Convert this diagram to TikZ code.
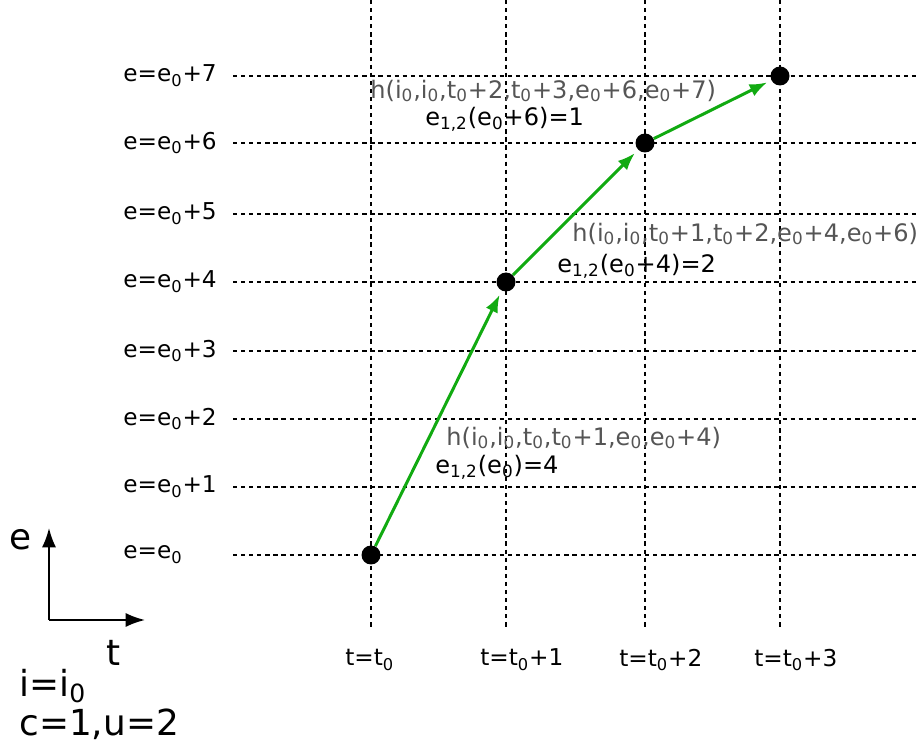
\documentclass[tikz,border=0pt]{standalone}
\usepackage{fontspec}
\setmainfont{DejaVu Sans}
\usetikzlibrary{arrows.meta,positioning}
\definecolor{Walk}{HTML}{11AA11}
\definecolor{Hop}{HTML}{555555}
\newcommand{\lo}[1]{\textsubscript{#1}}

\begin{document}
\begin{tikzpicture}[x=0.02cm,y=-0.02cm,>=Latex,
  grid/.style={dash pattern=on 2.4pt off 2.2pt,line width=0.6pt},
  dot/.style={circle,fill=black,inner sep=0pt,minimum size=0.38cm},
  walk/.style={-{Latex[length=10pt,width=7.5pt]},Walk,line width=1.7pt,shorten >=2.5pt},
  axis/.style={-{Latex[length=11pt,width=8pt]},line width=1.1pt},
  elab/.style={anchor=west,inner sep=0pt,font=\fontsize{13.2}{15}\selectfont},
  tlab/.style={anchor=west,inner sep=0pt,font=\fontsize{13.2}{15}\selectfont},
  hop/.style={anchor=west,text=Hop,font=\fontsize{13.7}{15}\selectfont,inner sep=0pt},
  cnt/.style={anchor=west,font=\fontsize{13.7}{15}\selectfont,inner sep=0pt},
  big/.style={anchor=west,font=\fontsize{20.4}{22}\selectfont,inner sep=0pt}]
  \useasboundingbox (0,0) rectangle (917,746);
  % grid
  \foreach \y/\k in {555/,487/+1,419/+2,351/+3,282/+4,214/+5,143/+6,76/+7}{
    \draw[grid] (233,\y) -- (917,\y);
    \node[elab] at (123,\y) {e=e\lo{0}\k};
  }
  \foreach \x/\k in {371/,506/+1,645/+2,780/+3}{
    \draw[grid] (\x,0) -- (\x,630);
    \node[tlab] at (\x-26,660) {t=t\lo{0}\k};
  }
  % path
  \node[dot] (p0) at (371,555) {};
  \node[dot] (p1) at (506,282) {};
  \node[dot] (p2) at (645,143) {};
  \node[dot] (p3) at (780,76) {};
  \draw[walk] (p0) -- (p1);
  \draw[walk] (p1) -- (p2);
  \draw[walk] (p2) -- (p3);
  % labels
  \node[hop] (h3) at (370,91) {h(i\lo{0},i\lo{0},t\lo{0}+2,t\lo{0}+3,e\lo{0}+6,e\lo{0}+7)};
  \node[cnt] (c3) at (425,119) {e\lo{1,2}(e\lo{0}+6)=1};
  \node[hop] (h2) at (572,234) {h(i\lo{0},i\lo{0},t\lo{0}+1,t\lo{0}+2,e\lo{0}+4,e\lo{0}+6)};
  \node[cnt] (c2) at (557,266) {e\lo{1,2}(e\lo{0}+4)=2};
  \node[hop] (h1) at (446,438) {h(i\lo{0},i\lo{0},t\lo{0},t\lo{0}+1,e\lo{0},e\lo{0}+4)};
  \node[cnt] (c1) at (435,467) {e\lo{1,2}(e\lo{0})=4};
  % axes
  \coordinate (o) at (49,620);
  \coordinate (ae) at (49,528);
  \coordinate (at) at (145,620);
  \draw[axis] (o) -- (ae);
  \draw[axis] (o) -- (at);
  \node[big] (le) at (9,540) {e};
  \node[big] (lt) at (106,653) {t};
  \node[big] (li) at (19,686) {i=i\lo{0}};
  \node[big] (lc) at (19,724) {c=1,u=2};
\end{tikzpicture}
\end{document}
